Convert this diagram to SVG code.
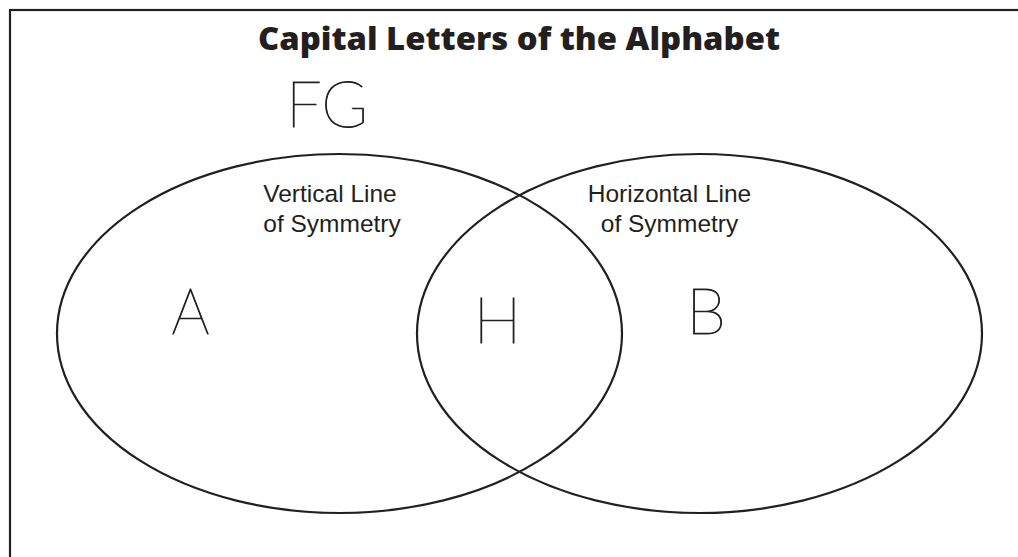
<svg xmlns="http://www.w3.org/2000/svg" width="1018" height="557" viewBox="0 0 1018 557">
<style>
.ln{fill:none;stroke:#231f20;stroke-width:2.2}
.title{font-family:"Open Sans","Liberation Sans",sans-serif;font-weight:800;font-size:31px;fill:#231f20}
.lbl{font-family:"Liberation Sans",Arial,sans-serif;font-size:24.5px;fill:#231f20;text-anchor:middle}
.big{font-family:Lato,"Open Sans","DejaVu Sans",sans-serif;font-weight:200;font-size:64px;fill:#231f20;stroke:#231f20;stroke-width:1}
</style>
<rect x="0" y="0" width="1018" height="557" fill="#ffffff"/>
<rect class="ln" x="10" y="10" width="1030" height="570" stroke-width="2.6"/>
<text class="title" x="258" y="50" textLength="522" lengthAdjust="spacingAndGlyphs">Capital Letters of the Alphabet</text>
<g id="outside"><text class="big" x="286" y="127" textLength="82" lengthAdjust="spacingAndGlyphs">FG</text></g>
<g id="vertical">
<ellipse class="ln" cx="339.5" cy="333.5" rx="282.5" ry="179.5"/>
<text class="lbl" x="330" y="202">Vertical Line</text>
<text class="lbl" x="332" y="232">of Symmetry</text>
<text class="big" x="190.5" y="334" text-anchor="middle" textLength="38" lengthAdjust="spacingAndGlyphs">A</text>
</g>
<g id="horizontal">
<ellipse class="ln" cx="699.5" cy="333.5" rx="282.5" ry="179.5"/>
<text class="lbl" x="669.5" y="202">Horizontal Line</text>
<text class="lbl" x="669.5" y="232">of Symmetry</text>
<text class="big" x="706" y="334" text-anchor="middle">B</text>
</g>
<g id="both"><text class="big" x="497.5" y="343" text-anchor="middle">H</text></g>
</svg>
